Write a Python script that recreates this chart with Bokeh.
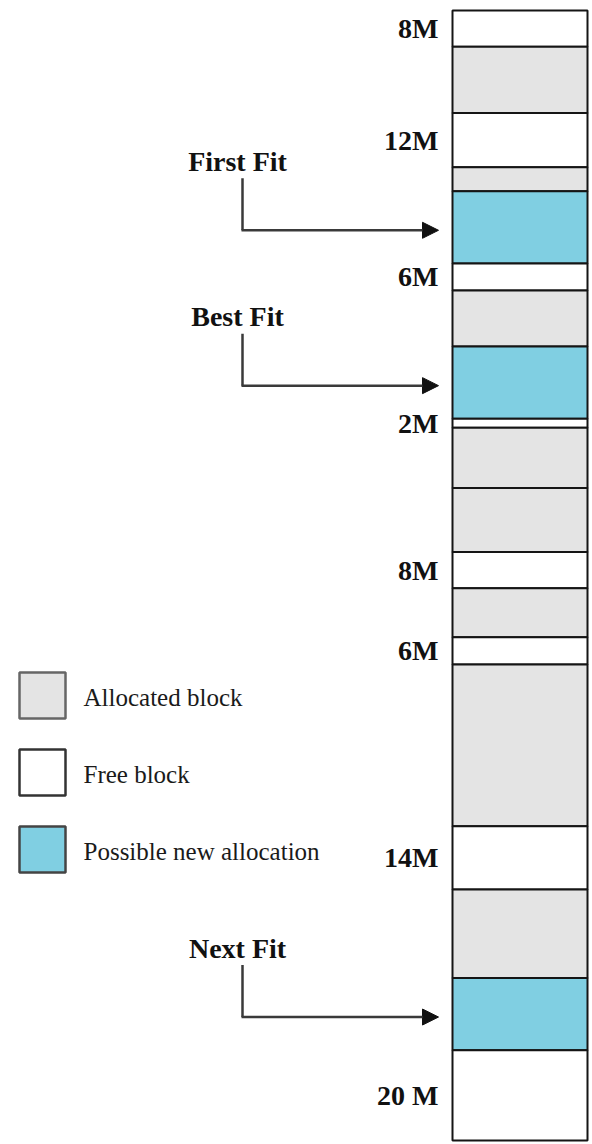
import numpy as np
from bokeh.plotting import figure
from bokeh.models import Range1d, ColumnDataSource, Arrow, NormalHead
from bokeh.core.properties import value
from bokeh.embed import file_html
from bokeh.resources import INLINE

# ---- data: memory blocks from top to bottom (sizes in MB) ----
block_sizes = [8, 14.7, 12, 5.3, 16, 6, 12.4, 16, 2, 13.3, 14.2, 8, 10.9, 6, 35.8, 14, 19.6, 16, 20]
block_kinds = ["free", "alloc", "free", "alloc", "new", "free", "alloc", "new", "free", "alloc",
               "alloc", "free", "alloc", "free", "alloc", "free", "alloc", "new", "free"]
label_blocks = [0, 2, 5, 8, 11, 13, 15, 18]
label_texts = ["8M", "12M", "6M", "2M", "8M", "6M", "14M", "20 M"]
fit_names = ["First Fit", "Best Fit", "Next Fit"]
fit_blocks = [4, 7, 17]
legend_kinds = ["alloc", "free", "new"]
legend_texts = ["Allocated block", "Free block", "Possible new allocation"]

fills = {"alloc": "#e4e4e4", "free": "#ffffff", "new": "#80cfe2"}
legend_edges = {"alloc": "#666666", "free": "#333333", "new": "#444444"}

W, H = 592, 1144
TOP_PX = 10.0
total = float(sum(block_sizes))
PX = 1130.0 / total  # pixels per MB

tops = np.concatenate([[0.0], np.cumsum(block_sizes)[:-1]])
bottoms = np.cumsum(block_sizes)
centers = (tops + bottoms) / 2.0

p = figure(width=W, height=H, output_backend="svg", toolbar_location=None,
           x_range=Range1d(0, W),
           y_range=Range1d(start=(H - TOP_PX) / PX, end=-TOP_PX / PX),
           x_axis_location=None, y_axis_location=None, min_border=0)
p.extra_y_ranges = {"px": Range1d(start=H, end=0)}
p.grid.visible = False
p.outline_line_color = None
p.background_fill_color = "white"
p.border_fill_color = "white"

src = ColumnDataSource(dict(top=tops, bottom=bottoms,
                            fill=[fills[k] for k in block_kinds]))
p.quad(left=452, right=587, top="top", bottom="bottom", fill_color="fill",
       line_color="#151515", line_width=2, source=src)

# size labels
lsrc = ColumnDataSource(dict(y=[centers[i] for i in label_blocks], t=label_texts))
p.text(x=438, y="y", text="t", source=lsrc, text_align="right", text_baseline="middle",
       text_font=value("Liberation Serif"), text_font_style="bold",
       text_font_size="28px", text_color="#111111")

# fit arrows
for name, bi in zip(fit_names, fit_blocks):
    ay = centers[bi] + 3.0 / PX
    p.segment(x0=242, y0=ay - 52.0 / PX, x1=242, y1=ay, line_color="#3a3a3a", line_width=2.5)
    p.add_layout(Arrow(x_start=241, y_start=ay, x_end=438, y_end=ay,
                       line_color="#3a3a3a", line_width=2.5,
                       end=NormalHead(size=16, fill_color="#111111", line_color="#111111")))
    p.text(x=[237], y=[ay - 69.0 / PX], text=[name], text_align="center",
           text_baseline="middle", text_font=value("Liberation Serif"),
           text_font_style="bold", text_font_size="28px", text_color="#111111")

# legend
lg_top = [672, 749, 826]
p.quad(left=19, right=65, top=lg_top, bottom=[t + 46 for t in lg_top],
       fill_color=[fills[k] for k in legend_kinds],
       line_color=[legend_edges[k] for k in legend_kinds], line_width=2.5,
       y_range_name="px")
p.text(x=83, y=[t + 25 for t in lg_top], text=legend_texts, text_align="left",
       text_baseline="middle", text_font=value("Liberation Serif"),
       text_font_size="25px", text_color="#1a1a1a", y_range_name="px")

open("out.html", "w").write(file_html(p, INLINE))
